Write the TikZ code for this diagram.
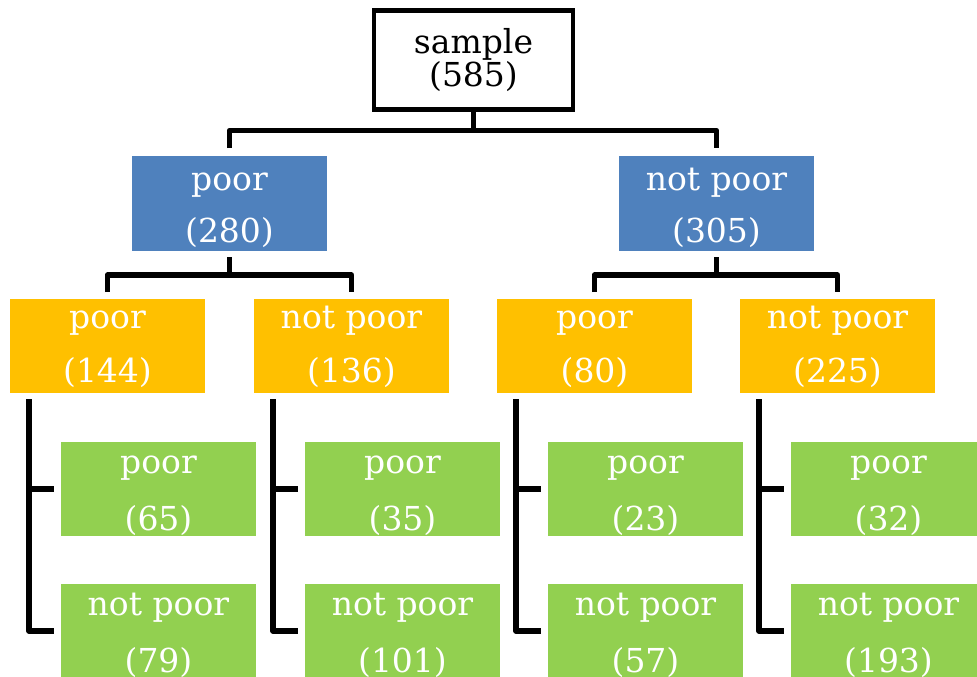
\documentclass[tikz,border=0pt]{standalone}
\usepackage{fontspec}
\setmainfont{DejaVu Serif}
\usetikzlibrary{calc}
\definecolor{cblue}{HTML}{4F81BD}
\definecolor{corange}{HTML}{FFC000}
\definecolor{cgreen}{HTML}{92D050}
\newcommand\twoline[3]{\vtop{\hsize=195pt\lineskiplimit=-100pt\baselineskip=#1pt\centering #2\par #3\par}}
\begin{document}
\begin{tikzpicture}[x=1pt,y=-1pt,
  every node/.style={inner sep=0pt, outer sep=0pt, font=\fontsize{33}{38}\selectfont},
  rootbox/.style={draw=black, line width=4.5pt, fill=white, minimum width=199pt, minimum height=99pt, text height=20pt, text depth=34pt},
  lvlone/.style={fill=cblue, text=white, minimum width=195pt, minimum height=95pt, text height=20pt, text depth=47pt},
  lvltwo/.style={fill=corange, text=white, minimum width=195pt, minimum height=94pt, text height=20pt, text depth=56pt},
  lvlthree/.style={fill=cgreen, text=white, minimum width=195pt, minimum height=94pt, text height=20pt, text depth=52pt},
  conn/.style={line width=5.5pt, line join=round}]
\useasboundingbox (0,0) rectangle (977,677);
% nodes
\node[rootbox] (root) at (473.5,60) {\twoline{33}{sample}{(585)}};
\node[lvlone] (b1) at (229.5,203.5) {\twoline{52}{poor}{(280)}};
\node[lvlone] (b2) at (716.5,203.5) {\twoline{52}{not poor}{(305)}};
\node[lvltwo] (o1) at (107.5,346) {\twoline{54}{poor}{(144)}};
\node[lvltwo] (o2) at (351.5,346) {\twoline{54}{not poor}{(136)}};
\node[lvltwo] (o3) at (594.5,346) {\twoline{54}{poor}{(80)}};
\node[lvltwo] (o4) at (837.5,346) {\twoline{54}{not poor}{(225)}};
\node[lvlthree] (g1a) at (158.5,489) {\twoline{57}{poor}{(65)}};
\node[lvlthree] (g1b) at (158.5,631) {\twoline{57}{not poor}{(79)}};
\node[lvlthree] (g2a) at (402.5,489) {\twoline{57}{poor}{(35)}};
\node[lvlthree] (g2b) at (402.5,631) {\twoline{57}{not poor}{(101)}};
\node[lvlthree] (g3a) at (645.5,489) {\twoline{57}{poor}{(23)}};
\node[lvlthree] (g3b) at (645.5,631) {\twoline{57}{not poor}{(57)}};
\node[lvlthree] (g4a) at (888.5,489) {\twoline{57}{poor}{(32)}};
\node[lvlthree] (g4b) at (888.5,631) {\twoline{57}{not poor}{(193)}};
% root to level one
\draw[conn] (root.south) -- ([yshift=-21pt]root.south) coordinate (rj);
\draw[conn] ([yshift=8pt]b1.north) |- (rj) -| ([yshift=8pt]b2.north);
% level one to level two
\draw[conn] ([yshift=-6pt]b1.south) -- ([yshift=-24pt]b1.south) coordinate (j1);
\draw[conn] ([yshift=7pt]o1.north) |- (j1) -| ([yshift=7pt]o2.north);
\draw[conn] ([yshift=-6pt]b2.south) -- ([yshift=-24pt]b2.south) coordinate (j2);
\draw[conn] ([yshift=7pt]o3.north) |- (j2) -| ([yshift=7pt]o4.north);
% level two to level three brackets
\foreach \o/\ga/\gb in {o1/g1a/g1b, o2/g2a/g2b, o3/g3a/g3b, o4/g4a/g4b}{
  \coordinate (v-\o) at ([xshift=19pt,yshift=-6pt]\o.south west);
  \draw[conn] (v-\o) |- ([xshift=-7pt]\gb.west);
  \draw[conn] (v-\o |- \ga.west) -- ([xshift=-7pt]\ga.west);
}
\end{tikzpicture}
\end{document}
